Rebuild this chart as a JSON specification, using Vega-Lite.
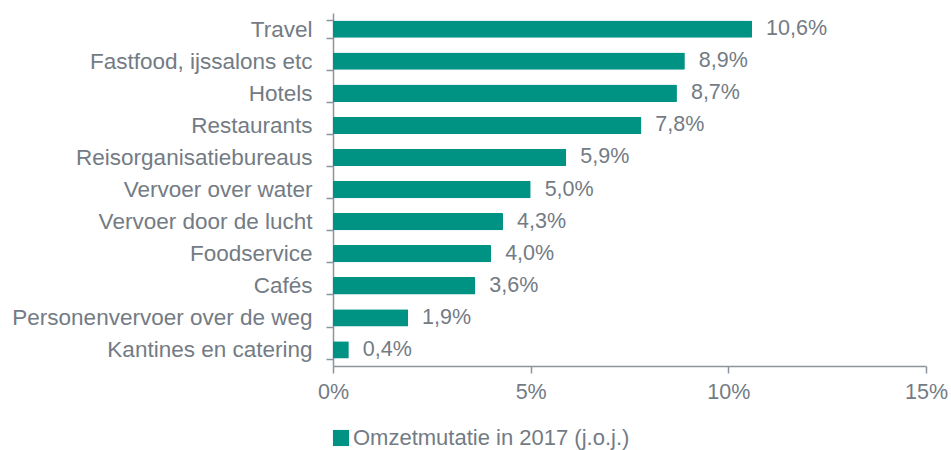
{
  "$schema": "https://vega.github.io/schema/vega-lite/v6.json",
  "autosize": "none",
  "width": 593,
  "height": 353,
  "padding": {"left": 333, "top": 13, "right": 25, "bottom": 84},
  "background": "white",
  "config": {
    "locale": {"number": {"decimal": ",", "thousands": ".", "grouping": [3], "currency": ["€", ""]}},
    "view": {"stroke": null},
    "font": "Liberation Sans"
  },
  "data": {
    "values": [
      {"categorie": "Travel", "waarde": 0.106, "reeks": "Omzetmutatie in 2017 (j.o.j.)"},
      {"categorie": "Fastfood, ijssalons etc", "waarde": 0.089, "reeks": "Omzetmutatie in 2017 (j.o.j.)"},
      {"categorie": "Hotels", "waarde": 0.087, "reeks": "Omzetmutatie in 2017 (j.o.j.)"},
      {"categorie": "Restaurants", "waarde": 0.078, "reeks": "Omzetmutatie in 2017 (j.o.j.)"},
      {"categorie": "Reisorganisatiebureaus", "waarde": 0.059, "reeks": "Omzetmutatie in 2017 (j.o.j.)"},
      {"categorie": "Vervoer over water", "waarde": 0.050, "reeks": "Omzetmutatie in 2017 (j.o.j.)"},
      {"categorie": "Vervoer door de lucht", "waarde": 0.043, "reeks": "Omzetmutatie in 2017 (j.o.j.)"},
      {"categorie": "Foodservice", "waarde": 0.040, "reeks": "Omzetmutatie in 2017 (j.o.j.)"},
      {"categorie": "Cafés", "waarde": 0.036, "reeks": "Omzetmutatie in 2017 (j.o.j.)"},
      {"categorie": "Personenvervoer over de weg", "waarde": 0.019, "reeks": "Omzetmutatie in 2017 (j.o.j.)"},
      {"categorie": "Kantines en catering", "waarde": 0.004, "reeks": "Omzetmutatie in 2017 (j.o.j.)"}
    ]
  },
  "encoding": {
    "y": {
      "field": "categorie",
      "type": "nominal",
      "sort": null,
      "scale": {"paddingInner": 0.46, "paddingOuter": 0.23},
      "axis": {
        "title": null,
        "tickBand": "extent",
        "domainColor": "#8b949c",
        "domainWidth": 1.5,
        "tickColor": "#8b949c",
        "tickWidth": 1.5,
        "tickSize": 7,
        "labelPadding": 14,
        "labelFontSize": 22.5,
        "labelColor": "#737b84",
        "labelLimit": 400
      }
    },
    "x": {
      "field": "waarde",
      "type": "quantitative",
      "scale": {"domain": [0, 0.15], "nice": false},
      "axis": {
        "title": null,
        "values": [0, 0.05, 0.1, 0.15],
        "format": ".0%",
        "grid": false,
        "domainColor": "#8b949c",
        "domainWidth": 1.5,
        "tickColor": "#8b949c",
        "tickWidth": 1.5,
        "tickSize": 7,
        "labelPadding": 8,
        "labelFontSize": 21.5,
        "labelColor": "#737b84",
        "labelFlush": false
      }
    }
  },
  "layer": [
    {
      "mark": {"type": "bar", "cornerRadius": 1},
      "encoding": {
        "color": {
          "field": "reeks",
          "type": "nominal",
          "scale": {"range": ["#009384"]},
          "legend": {
            "title": null,
            "orient": "none",
            "legendX": -3,
            "legendY": 414,
            "symbolType": "square",
            "symbolSize": 260,
            "symbolStrokeWidth": 0,
            "symbolOpacity": 1,
            "labelFontSize": 22,
            "labelColor": "#737b84",
            "labelOffset": 1,
            "labelLimit": 500,
            "padding": 0
          }
        }
      }
    },
    {
      "mark": {"type": "text", "align": "left", "baseline": "middle", "dx": 14, "fontSize": 21.5, "color": "#737b84"},
      "encoding": {
        "text": {"field": "waarde", "type": "quantitative", "format": ".1%"}
      }
    }
  ]
}
